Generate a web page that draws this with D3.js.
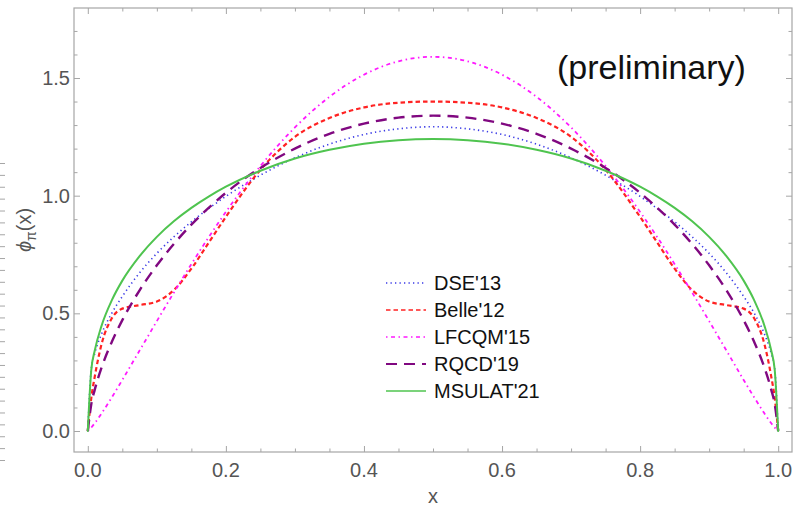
<!DOCTYPE html>
<html>
<head>
<meta charset="utf-8">
<script src="https://cdn.jsdelivr.net/npm/d3@7"></script>
<style>
  html, body { margin: 0; padding: 0; background: #fff; }
  svg { display: block; font-family: "Liberation Sans", Arial, sans-serif; }
</style>
</head>
<body>
<svg id="chart" width="794" height="510"></svg>
<script>
// Pion distribution amplitudes phi_pi(x), sampled on a shared x grid
const xGrid = [0, 0.005, 0.01, 0.02, 0.035, 0.05, 0.075, 0.1, 0.125, 0.15, 0.175, 0.2, 0.25, 0.3, 0.35, 0.4, 0.45, 0.5,
               0.55, 0.6, 0.65, 0.7, 0.75, 0.8, 0.825, 0.85, 0.875, 0.9, 0.925, 0.95, 0.965, 0.98, 0.99, 0.995, 1];

const dse13 = [0, 0.263, 0.329, 0.413, 0.502, 0.572, 0.672, 0.755, 0.826, 0.889, 0.945, 0.997, 1.087, 1.161, 1.219, 1.260, 1.284, 1.293,
               1.284, 1.260, 1.219, 1.161, 1.087, 0.997, 0.945, 0.889, 0.826, 0.755, 0.672, 0.572, 0.502, 0.413, 0.329, 0.263, 0];
const belle12 = [0, 0.14, 0.23, 0.37, 0.48, 0.52, 0.535, 0.55, 0.60, 0.69, 0.80, 0.91, 1.11, 1.25, 1.33, 1.375, 1.395, 1.40,
                 1.395, 1.375, 1.33, 1.25, 1.11, 0.91, 0.80, 0.69, 0.60, 0.55, 0.535, 0.52, 0.48, 0.37, 0.23, 0.14, 0];
const lfcqm15 = [0, 0.0145, 0.033, 0.075, 0.144, 0.217, 0.342, 0.467, 0.590, 0.709, 0.823, 0.931, 1.126, 1.290, 1.420, 1.514, 1.571, 1.59,
                 1.571, 1.514, 1.420, 1.290, 1.126, 0.931, 0.823, 0.709, 0.590, 0.467, 0.342, 0.217, 0.144, 0.075, 0.033, 0.0145, 0];
const rqcd19 = [0, 0.114, 0.175, 0.27, 0.38, 0.471, 0.598, 0.704, 0.796, 0.877, 0.948, 1.012, 1.118, 1.200, 1.263, 1.306, 1.3315, 1.34,
                1.3315, 1.306, 1.263, 1.200, 1.118, 1.012, 0.948, 0.877, 0.796, 0.704, 0.598, 0.471, 0.38, 0.27, 0.175, 0.114, 0];
const msulat21 = [0, 0.259, 0.341, 0.448, 0.557, 0.639, 0.743, 0.825, 0.892, 0.948, 0.996, 1.038, 1.106, 1.158, 1.195, 1.221, 1.236, 1.241,
                  1.236, 1.221, 1.195, 1.158, 1.106, 1.038, 0.996, 0.948, 0.892, 0.825, 0.743, 0.639, 0.557, 0.448, 0.341, 0.259, 0];

const seriesNames = ["DSE'13", "Belle'12", "LFCQM'15", "RQCD'19", "MSULAT'21"];
const seriesValues = [dse13, belle12, lfcqm15, rqcd19, msulat21];

const xTickValues = [0, 0.2, 0.4, 0.6, 0.8, 1.0];
const yTickValues = [0, 0.5, 1.0, 1.5];
const noteText = "(preliminary)";

// Styling per series
const styles = [
  { color: "#3a3ae6", width: 1.6, dash: "1.3,3.2" },
  { color: "#ff2222", width: 2.2, dash: "4.5,3" },
  { color: "#ff1aff", width: 1.8, dash: "1.5,3.5,4,3.5" },
  { color: "#800880", width: 2.4, dash: "11,7" },
  { color: "#4fc44f", width: 2.0, dash: null }
];

const svg = d3.select("#chart");
const frame = { left: 74, right: 792, top: 8, bottom: 452 };

const x = d3.scaleLinear().domain([-0.02, 1.02]).range([frame.left, frame.right]);
const y = d3.scaleLinear().domain([-0.0892, 1.7975]).range([frame.bottom, frame.top]);

const axisColor = "#a6a6a6";
const labelColor = "#555555";

// Frame
svg.append("rect")
  .attr("x", frame.left).attr("y", frame.top)
  .attr("width", frame.right - frame.left).attr("height", frame.bottom - frame.top)
  .attr("fill", "none").attr("stroke", axisColor).attr("stroke-width", 1.2);

// Minor tick positions
const xMinor = d3.range(0, 1.0001, 0.05).filter(v => !xTickValues.some(t => Math.abs(t - v) < 1e-6));
const yMinor = d3.range(0.1, 1.75, 0.1).filter(v => !yTickValues.some(t => Math.abs(t - v) < 1e-6));

function tickAxis(axisGen, transform, values, size) {
  const g = svg.append("g").attr("transform", transform)
    .call(axisGen.tickValues(values).tickSize(size).tickSizeOuter(0).tickFormat(""));
  g.select(".domain").remove();
  g.selectAll(".tick line").attr("stroke", axisColor).attr("stroke-width", 1);
  return g;
}

// Inward ticks on all four sides
tickAxis(d3.axisTop(x), `translate(0,${frame.bottom})`, xTickValues, 6);
tickAxis(d3.axisTop(x), `translate(0,${frame.bottom})`, xMinor, 3.5);
tickAxis(d3.axisBottom(x), `translate(0,${frame.top})`, xTickValues, 6);
tickAxis(d3.axisBottom(x), `translate(0,${frame.top})`, xMinor, 3.5);
tickAxis(d3.axisLeft(y), `translate(${frame.right},0)`, yTickValues, 6);
tickAxis(d3.axisLeft(y), `translate(${frame.right},0)`, yMinor, 3.5);
tickAxis(d3.axisRight(y), `translate(${frame.left},0)`, yTickValues, 6);
tickAxis(d3.axisRight(y), `translate(${frame.left},0)`, yMinor, 3.5);

// Short ticks along the far left edge
const edgeScale = d3.scaleLinear().domain([0, 1]).range([460, 163]);
tickAxis(d3.axisRight(edgeScale), `translate(0,0)`, d3.range(0, 1.0001, 1 / 25), 5);

// Tick labels
svg.append("g").selectAll("text").data(xTickValues).join("text")
  .attr("x", d => x(d)).attr("y", 477)
  .attr("text-anchor", "middle").attr("font-size", 20).attr("fill", labelColor)
  .text(d => d3.format(".1f")(d));

svg.append("g").selectAll("text").data(yTickValues).join("text")
  .attr("x", 70).attr("y", d => y(d) + 7)
  .attr("text-anchor", "end").attr("font-size", 20).attr("fill", labelColor)
  .text(d => d3.format(".1f")(d));

// Axis titles
svg.append("text")
  .attr("x", x(0.5)).attr("y", 503)
  .attr("text-anchor", "middle").attr("font-size", 20).attr("fill", labelColor)
  .text("x");

const yTitle = svg.append("text")
  .attr("transform", `translate(31,${(frame.top + frame.bottom) / 2}) rotate(-90)`)
  .attr("text-anchor", "middle").attr("font-size", 20).attr("fill", labelColor);
yTitle.append("tspan").attr("font-style", "italic").text("\u03d5");
yTitle.append("tspan").attr("font-size", 14).attr("dy", 5).text("\u03c0");
yTitle.append("tspan").attr("dy", -5).text("(x)");

// Curves
const clipId = "plot-clip";
svg.append("clipPath").attr("id", clipId).append("rect")
  .attr("x", frame.left).attr("y", frame.top)
  .attr("width", frame.right - frame.left).attr("height", frame.bottom - frame.top);

const line = d3.line()
  .x(d => x(d[0]))
  .y(d => y(d[1]))
  .curve(d3.curveMonotoneX);

const curves = svg.append("g").attr("clip-path", `url(#${clipId})`);
seriesValues.forEach((vals, i) => {
  const pts = xGrid.map((xv, j) => [xv, vals[j]]);
  curves.append("path")
    .datum(pts)
    .attr("d", line)
    .attr("fill", "none")
    .attr("stroke", styles[i].color)
    .attr("stroke-width", styles[i].width)
    .attr("stroke-dasharray", styles[i].dash)
    .attr("stroke-linecap", styles[i].dash ? "butt" : "round");
});

// Legend
const legend = svg.append("g");
seriesNames.forEach((name, i) => {
  const rowY = 283 + i * 27;
  legend.append("line")
    .attr("x1", 386).attr("x2", 426).attr("y1", rowY).attr("y2", rowY)
    .attr("stroke", styles[i].color)
    .attr("stroke-width", Math.max(1.3, styles[i].width - 0.6))
    .attr("stroke-dasharray", styles[i].dash);
  legend.append("text")
    .attr("x", 434).attr("y", rowY + 6.5)
    .attr("font-size", 20).attr("fill", "#111")
    .text(name);
});

// Note
svg.append("text")
  .attr("x", 557).attr("y", 79)
  .attr("font-size", 34).attr("fill", "#111")
  .text(noteText);
</script>
</body>
</html>
